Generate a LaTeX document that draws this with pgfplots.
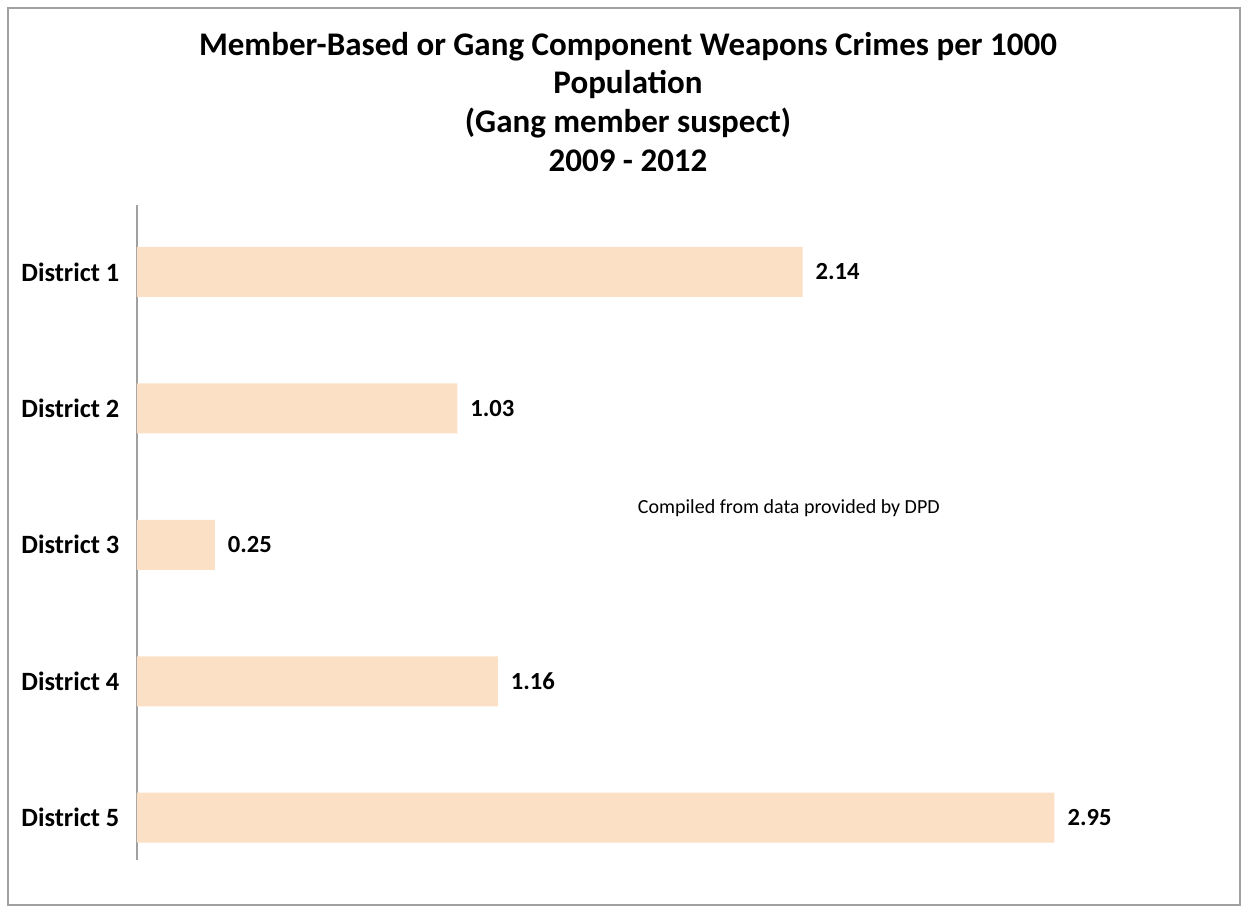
\documentclass[border=0pt]{standalone}
\usepackage{fontspec}
\setmainfont{Carlito}
\usepackage{pgfplots}
\pgfplotsset{compat=1.18}
\definecolor{barpeach}{HTML}{FCE0C6}
\definecolor{framegray}{HTML}{A0A0A0}

\begin{document}
\begin{tikzpicture}[x=1pt,y=1pt]
    % page size and outer frame (0.5pt per pixel of the reference)
    \useasboundingbox (-68.5,-23.5) rectangle (554,430);
    \draw[framegray, line width=0.6pt] (-64.5,-22.5) rectangle (551.5,426);
    \begin{axis}[
        at={(0,0)}, anchor=south west,
        scale only axis,
        width=531.5pt, height=327.5pt,
        xbar, bar width=25pt,
        xmin=0, xmax=3.418,
        ymin=-0.49, ymax=4.31,
        y dir=reverse,
        axis x line=none,
        axis y line*=left,
        y axis line style={framegray, -, line width=0.6pt},
        ytick={0,1,2,3,4},
        yticklabels={District 1, District 2, District 3, District 4, District 5},
        ytick style={draw=none},
        yticklabel style={font=\fontsize{13.2}{14}\selectfont\bfseries, xshift=-1pt},
        /pgf/number format/assume math mode=true,
        nodes near coords,
        nodes near coords style={font=\fontsize{12.3}{14}\selectfont\bfseries, xshift=3pt,
            /pgf/number format/.cd, fixed, fixed zerofill, precision=2},
    ]
        \addplot[fill=barpeach, draw=none] coordinates {
            (2.14,0)
            (1.03,1)
            (0.25,2)
            (1.16,3)
            (2.95,4)
        };
        \node[font=\fontsize{10}{12}\selectfont] at (axis cs:2.096,1.73) {Compiled from data provided by DPD};
    \end{axis}
    \node[align=center, anchor=north, font=\fontsize{16.5}{19.3}\selectfont\bfseries]
        at (245.5,417.5) {Member-Based or Gang Component Weapons Crimes per 1000\\Population\\(Gang member suspect)\\2009 - 2012};
\end{tikzpicture}
\end{document}
